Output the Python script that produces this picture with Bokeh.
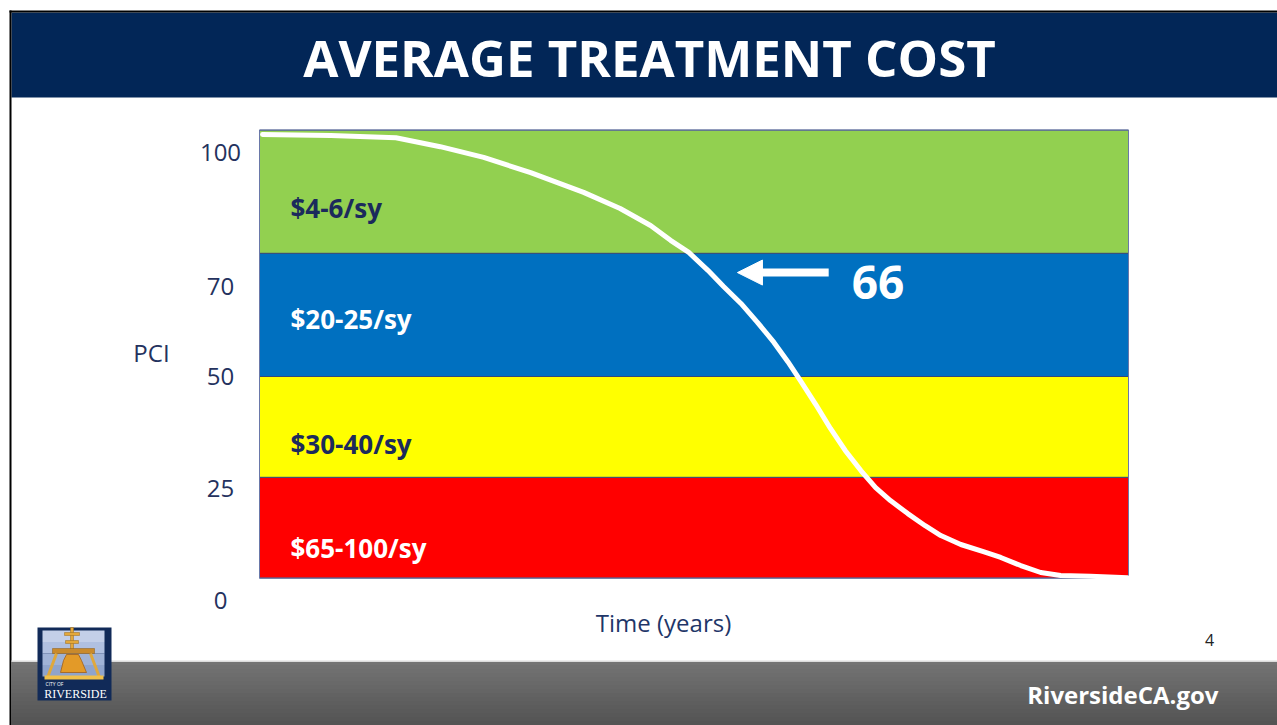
import numpy as np
from bokeh.plotting import figure
from bokeh.models import Range1d
from bokeh.core.properties import value
from bokeh.embed import file_html
from bokeh.resources import INLINE

# ---------------- data ----------------
band_lower = [5, 27.5, 50, 77.5]
band_upper = [27.5, 50, 77.5, 105]
band_labels = ["$65-100/sy", "$30-40/sy", "$20-25/sy", "$4-6/sy"]
time_start, time_end = 0, 100
pci_ticks = [0, 25, 50, 70, 100]
pci_tick_labels = ["0", "25", "50", "70", "100"]
curve_time = [0.35, 8.2, 15.7, 20.8, 25.8, 31.2, 37.3, 41.5, 45.0, 47.3, 49.4,
              51.6, 53.4, 55.4, 57.3, 59.2, 60.8, 62.3, 64.0, 65.7, 67.4,
              69.2, 70.9, 72.6, 74.6, 76.6, 78.4, 80.7, 83.3, 85.3, 87.6,
              89.9, 92.2, 95.6, 99.9]
curve_pci = [104.0, 103.8, 103.3, 101.3, 98.9, 95.5, 91.1, 87.5, 83.7, 80.4, 77.7,
             73.7, 70.1, 66.3, 62.1, 57.6, 53.3, 48.9, 43.8, 38.4, 33.5,
             29.0, 25.2, 22.3, 19.4, 16.7, 14.5, 12.5, 10.9, 9.6, 7.8,
             6.25, 5.6, 5.4, 5.1]
network_pci_label = "66"
title_text = "AVERAGE TREATMENT COST"
x_label = "Time (years)"
y_label = "PCI"
site_text = "RiversideCA.gov"
page_number = "4"

# ---------------- styles / layout ----------------
band_colors = ["#ff0000", "#ffff00", "#0070c0", "#92d050"]
label_colors = ["#ffffff", "#1b2a5c", "#ffffff", "#1b2a5c"]
label_frac = [0.30, 0.33, 0.47, 0.37]
NAVY = "#022657"
AXIS_TXT = "#24325e"
FONT = value("Open Sans")

W, H = 1277, 725
X0, X1 = 259, 1128          # canvas px of time_start / time_end
PX_T = (X1 - X0) / (time_end - time_start)
Y0 = 600                    # canvas px (from top) of PCI 0
PX_P = 4.48

p = figure(width=W, height=H, title=None, output_backend="svg",
           toolbar_location=None, tools="", min_border=0,
           x_axis_location=None, y_axis_location=None,
           x_range=Range1d(time_start - X0 / PX_T, time_start + (W - X0) / PX_T),
           y_range=Range1d((Y0 - H) / PX_P, Y0 / PX_P))
p.grid.visible = False
p.outline_line_color = None
p.background_fill_color = "white"
p.border_fill_color = "white"
p.extra_x_ranges = {"px": Range1d(0, W)}
p.extra_y_ranges = {"py": Range1d(H, 0)}
PX = dict(x_range_name="px", y_range_name="py")

# ---------------- slide decoration ----------------
p.quad(left=11, right=W, top=12, bottom=97, fill_color=NAVY, line_color=None, **PX)
p.quad(left=9, right=W, top=10, bottom=12, fill_color="black", line_color=None, **PX)
p.quad(left=9, right=11, top=10, bottom=H, fill_color="black", line_color=None, **PX)
p.text(x=[649], y=[56], text=[title_text], text_font=FONT, text_font_style="bold",
       text_font_size="51px", text_color="white", text_align="center",
       text_baseline="middle", **PX)

# footer gradient
n = 16
edges = np.linspace(661, H, n + 1)
grays = np.linspace(0x74, 0x54, n).astype(int)
cols = ["#%02x%02x%02x" % (g, g, g) for g in grays]
p.quad(left=11, right=W, top=edges[:-1], bottom=edges[1:], fill_color=cols,
       line_color=cols, line_width=1, **PX)
p.quad(left=11, right=W, top=660, bottom=661.5, fill_color="#dcdcdc", line_color=None, **PX)
p.text(x=[1218], y=[694], text=[site_text], text_font=FONT, text_font_style="bold",
       text_font_size="24px", text_color="white", text_align="right",
       text_baseline="middle", **PX)
p.text(x=[1209], y=[639], text=[page_number], text_font=FONT, text_font_size="16px",
       text_color="#222222", text_align="center", text_baseline="middle", **PX)

# logo
p.quad(left=37, right=111, top=627, bottom=700, fill_color="#112a58", line_color=None, **PX)
lb = np.linspace(630, 676, 5)
p.quad(left=42, right=104, top=lb[:-1], bottom=lb[1:],
       fill_color=["#c3cfe8", "#b0c0e0", "#9fb2d6", "#8fa4cc"], line_color=None, **PX)
p.quad(left=[70, 64, 65], right=[73, 79, 78], top=[627, 632, 640], bottom=[651, 635, 643],
       fill_color="#e3a83a", line_color="#9a6a1a", line_width=0.5, **PX)
p.quad(left=52, right=94, top=648, bottom=653, fill_color="#c98a2c", line_color="#8a5a14",
       line_width=0.5, **PX)
p.segment(x0=[56, 90], y0=[653, 653], x1=[47, 99], y1=[677, 677],
          line_color="#e0a83c", line_width=3, **PX)
p.patch(x=[66, 78, 81, 86, 60, 63], y=[654, 654, 660, 672, 672, 660],
        fill_color="#e39a28", line_color="#a0601a", line_width=0.8, **PX)
p.quad(left=44, right=103, top=675, bottom=679, fill_color="#f0c04a", line_color=None, **PX)
p.text(x=[45], y=[683], text=["CITY OF"], text_font=FONT, text_font_size="5px",
       text_color="white", text_baseline="middle", **PX)
p.text(x=[75], y=[693], text=["RIVERSIDE"], text_font=value("Liberation Serif"),
       text_font_size="12px", text_color="white", text_align="center",
       text_baseline="middle", **PX)

# ---------------- chart ----------------
p.quad(left=time_start, right=time_end, bottom=band_lower, top=band_upper,
       fill_color=band_colors, line_color="#34487a", line_width=1)
p.quad(left=time_start, right=time_end, bottom=min(band_lower), top=max(band_upper),
       fill_color=None, line_color="#6a78a8", line_width=1)

label_y = [lo + f * (hi - lo) for lo, hi, f in zip(band_lower, band_upper, label_frac)]
p.text(x=[time_start] * len(band_labels), y=label_y, text=band_labels,
       text_color=label_colors, x_offset=31, text_font=FONT, text_font_style="bold",
       text_font_size="26px", text_baseline="middle")

p.line(curve_time, curve_pci, line_color="white", line_width=5,
       line_join="round", line_cap="round")

# arrow pointing at the curve
arrow_y = 73.2
tip_x, tail_x = 55.0, 65.5
head_len, head_half = 25 / PX_T, 12.5 / PX_P
p.segment(x0=[tip_x + head_len * 0.9], y0=[arrow_y], x1=[tail_x], y1=[arrow_y],
          line_color="white", line_width=8)
p.patch(x=[tip_x, tip_x + head_len, tip_x + head_len],
        y=[arrow_y, arrow_y + head_half, arrow_y - head_half],
        fill_color="white", line_color="white")
p.text(x=[tail_x], y=[arrow_y], text=[network_pci_label], x_offset=23, y_offset=10,
       text_font=FONT, text_font_style="bold", text_font_size="46px",
       text_color="white", text_baseline="middle")

# axis texts
p.text(x=[time_start] * len(pci_ticks), y=pci_ticks, text=pci_tick_labels, x_offset=-39,
       text_font=FONT, text_font_size="24px", text_color=AXIS_TXT,
       text_align="center", text_baseline="middle")
p.text(x=[151], y=[352], text=[y_label], text_font=FONT, text_font_size="24px",
       text_color=AXIS_TXT, text_align="center", text_baseline="middle", **PX)
p.text(x=[663], y=[622], text=[x_label], text_font=FONT, text_font_size="24px",
       text_color="#1f3668", text_align="center", text_baseline="middle", **PX)

open("out.html", "w").write(file_html(p, INLINE))
